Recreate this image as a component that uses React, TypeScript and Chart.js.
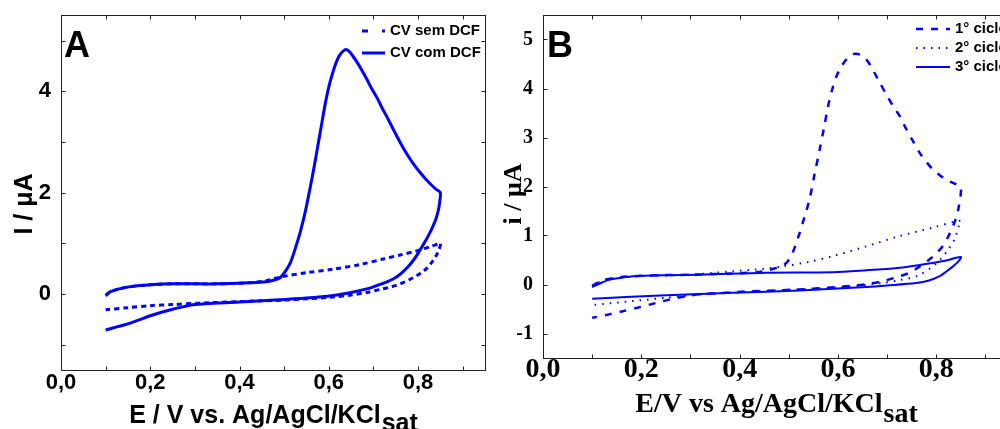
import React, { useEffect, useRef } from 'react';
import { Chart, registerables } from 'chart.js';

Chart.register(...registerables);

// ---------- DATA ----------
// Panel A: CV sem DCF (dashed) – forward then reverse scan
const aSemX = [0.1, 0.11, 0.13, 0.16, 0.2, 0.25, 0.35, 0.42, 0.46, 0.48, 0.5, 0.55, 0.61, 0.67, 0.722, 0.76, 0.797, 0.83, 0.85,
  0.849, 0.846, 0.842, 0.835, 0.827, 0.82, 0.812, 0.797, 0.78, 0.76, 0.74, 0.72, 0.685, 0.65, 0.61, 0.5, 0.4, 0.313, 0.25, 0.2, 0.15, 0.1];
const aSemY = [-0.03, 0.04, 0.1, 0.15, 0.18, 0.2, 0.2, 0.22, 0.26, 0.31, 0.35, 0.42, 0.49, 0.58, 0.69, 0.77, 0.85, 0.94, 1.0,
  0.93, 0.86, 0.78, 0.68, 0.58, 0.51, 0.45, 0.36, 0.28, 0.2, 0.14, 0.1, 0.03, -0.02, -0.06, -0.12, -0.15, -0.18, -0.21, -0.23, -0.27, -0.31];

// Panel A: CV com DCF (solid)
const aComX = [0.1, 0.11, 0.13, 0.16, 0.2, 0.25, 0.35, 0.42, 0.46, 0.48, 0.492, 0.503, 0.514, 0.525, 0.536, 0.548, 0.559, 0.567, 0.574, 0.583,
  0.592, 0.601, 0.61, 0.618, 0.625, 0.637, 0.645, 0.655, 0.665, 0.675, 0.685, 0.695, 0.71, 0.72, 0.73, 0.745, 0.76, 0.775, 0.79, 0.804,
  0.817, 0.83, 0.84, 0.85,
  0.849, 0.847, 0.844, 0.84, 0.835, 0.83, 0.82, 0.81, 0.8, 0.79, 0.78, 0.77, 0.76, 0.745, 0.73, 0.715, 0.7, 0.685, 0.65, 0.61, 0.55,
  0.46, 0.4, 0.35, 0.3, 0.275, 0.25, 0.225, 0.2, 0.175, 0.15, 0.125, 0.1];
const aComY = [-0.03, 0.04, 0.1, 0.15, 0.18, 0.2, 0.2, 0.22, 0.24, 0.28, 0.33, 0.45, 0.62, 0.9, 1.22, 1.65, 2.13, 2.5, 2.85, 3.3,
  3.75, 4.12, 4.4, 4.6, 4.72, 4.82, 4.79, 4.68, 4.55, 4.4, 4.24, 4.07, 3.84, 3.66, 3.5, 3.24, 2.99, 2.76, 2.56, 2.4,
  2.27, 2.15, 2.07, 2.0,
  1.85, 1.72, 1.6, 1.48, 1.37, 1.27, 1.1, 0.95, 0.8, 0.67, 0.56, 0.47, 0.39, 0.3, 0.24, 0.19, 0.14, 0.1, 0.03, -0.03, -0.08,
  -0.13, -0.16, -0.18, -0.21, -0.25, -0.3, -0.36, -0.43, -0.51, -0.59, -0.65, -0.71];

// Panel B: 1° ciclo (dashed)
const b1X = [0.1, 0.12, 0.15, 0.2, 0.3, 0.4, 0.45, 0.475, 0.485, 0.495, 0.502, 0.508, 0.515, 0.522, 0.532, 0.542, 0.552, 0.563, 0.572, 0.58,
  0.588, 0.597, 0.607, 0.617, 0.63, 0.645, 0.658, 0.67, 0.685, 0.7, 0.713, 0.726, 0.74, 0.753, 0.766, 0.78, 0.793, 0.806, 0.82, 0.835, 0.85,
  0.85, 0.849, 0.846, 0.843, 0.839, 0.834, 0.824, 0.813, 0.8, 0.786, 0.765, 0.746, 0.72, 0.692, 0.66, 0.624, 0.522, 0.42, 0.35, 0.319,
  0.29, 0.26, 0.24, 0.217, 0.19, 0.16, 0.13, 0.1];
const b1Y = [-0.03, 0.08, 0.14, 0.18, 0.2, 0.23, 0.27, 0.34, 0.38, 0.44, 0.53, 0.65, 0.84, 1.05, 1.38, 1.73, 2.23, 2.76, 3.22, 3.64,
  3.97, 4.25, 4.45, 4.59, 4.7, 4.69, 4.59, 4.4, 4.12, 3.85, 3.63, 3.43, 3.15, 2.92, 2.69, 2.5, 2.35, 2.24, 2.14, 2.07, 2.0,
  1.88, 1.75, 1.6, 1.45, 1.32, 1.19, 0.97, 0.78, 0.63, 0.51, 0.36, 0.24, 0.15, 0.07, 0.01, -0.03, -0.1, -0.14, -0.18, -0.2,
  -0.24, -0.3, -0.35, -0.41, -0.48, -0.55, -0.62, -0.68];

// Panel B: 2° ciclo (dotted)
const b2X = [0.1, 0.12, 0.15, 0.2, 0.3, 0.386, 0.45, 0.488, 0.54, 0.59, 0.658, 0.726, 0.793, 0.84, 0.85,
  0.849, 0.846, 0.837, 0.824, 0.81, 0.793, 0.76, 0.72, 0.692, 0.6, 0.5, 0.4, 0.3, 0.251, 0.18, 0.1];
const b2Y = [-0.05, 0.07, 0.13, 0.17, 0.2, 0.27, 0.32, 0.37, 0.46, 0.58, 0.78, 0.99, 1.16, 1.29, 1.3,
  1.28, 1.2, 0.92, 0.71, 0.53, 0.37, 0.17, 0.08, 0.03, -0.06, -0.11, -0.16, -0.22, -0.27, -0.34, -0.42];

// Panel B: 3° ciclo (solid)
const b3X = [0.1, 0.12, 0.136, 0.16, 0.183, 0.25, 0.319, 0.454, 0.59, 0.658, 0.726, 0.793, 0.82, 0.85,
  0.845, 0.834, 0.82, 0.807, 0.785, 0.759, 0.7, 0.658, 0.522, 0.386, 0.251, 0.18, 0.1];
const b3Y = [-0.05, 0.04, 0.1, 0.14, 0.17, 0.19, 0.2, 0.24, 0.25, 0.29, 0.34, 0.44, 0.49, 0.56,
  0.47, 0.37, 0.26, 0.17, 0.08, 0.03, -0.02, -0.05, -0.12, -0.17, -0.22, -0.25, -0.29];

const xTickValues = [0, 0.1, 0.2, 0.3, 0.4, 0.5, 0.6, 0.7, 0.8, 0.9];
const xLabelValues = [0, 0.2, 0.4, 0.6, 0.8];
const yTickValues = [-1, 0, 1, 2, 3, 4, 5];
const aYLabelValues = [0, 2, 4];
const bYLabelValues = [-1, 0, 1, 2, 3, 4, 5];

const legendA = ['CV sem DCF', 'CV com DCF'];
const legendB = ['1° ciclo', '2° ciclo', '3° ciclo'];

const X_MIN = 0;
const X_MAX = 0.95;
const Y_MIN = -1.5;
const Y_MAX = 5.5;

const BLUE = '#0000ff';
const SANS = '"Liberation Sans", Arial, sans-serif';
const SERIF = '"Liberation Serif", "Times New Roman", serif';

const pts = (xs: number[], ys: number[]) => xs.map((x, i) => ({ x, y: ys[i] }));
const near = (v: number, list: number[]) => list.some((l) => Math.abs(l - v) < 1e-6);
const fmtComma = (v: number, d: number) => v.toFixed(d).replace('.', ',');

// ---------- decoration plugin (frame, inner ticks, letter, legend, titles) ----------
const decorPlugin = {
  id: 'decor',
  afterDraw(chart: any, _args: any, o: any) {
    const { ctx, chartArea: ca, scales } = chart;
    const xs = scales.x;
    const ys = scales.y;
    ctx.save();
    // frame
    ctx.strokeStyle = '#222';
    ctx.lineWidth = 1;
    ctx.setLineDash([]);
    const L = Math.round(ca.left) + 0.5, T = Math.round(ca.top) + 0.5;
    const R = Math.round(ca.right) + 0.5, B = Math.round(ca.bottom) + 0.5;
    ctx.strokeRect(L, T, R - L, B - T);
    // inner ticks
    ctx.beginPath();
    xs.ticks.forEach((t: any) => {
      const p = Math.round(xs.getPixelForValue(t.value)) + 0.5;
      ctx.moveTo(p, B); ctx.lineTo(p, B - o.tickLen);
      ctx.moveTo(p, T); ctx.lineTo(p, T + o.tickLen);
    });
    ys.ticks.forEach((t: any) => {
      const p = Math.round(ys.getPixelForValue(t.value)) + 0.5;
      ctx.moveTo(L, p); ctx.lineTo(L + o.tickLen, p);
      ctx.moveTo(R, p); ctx.lineTo(R - o.tickLen, p);
    });
    ctx.stroke();

    // panel letter
    ctx.fillStyle = '#000';
    ctx.font = o.letterFont;
    ctx.textAlign = 'left';
    ctx.textBaseline = 'alphabetic';
    ctx.fillText(o.letter, o.letterX, o.letterY);

    // legend
    const ds = chart.data.datasets;
    o.legendRows.forEach((rowY: number, i: number) => {
      const d = ds[i];
      ctx.strokeStyle = d.borderColor;
      ctx.lineWidth = d.borderWidth;
      ctx.setLineDash(d.legendDash || d.borderDash || []);
      ctx.beginPath();
      ctx.moveTo(o.legendX0, rowY);
      ctx.lineTo(o.legendX1, rowY);
      ctx.stroke();
      ctx.setLineDash([]);
      ctx.fillStyle = '#000';
      ctx.font = o.legendFont;
      ctx.textAlign = 'left';
      ctx.textBaseline = 'middle';
      ctx.fillText(d.label, o.legendTextX, rowY);
    });

    // x title with subscript
    ctx.font = o.xTitleFont;
    ctx.textBaseline = 'alphabetic';
    ctx.textAlign = 'left';
    const wMain = ctx.measureText(o.xTitleMain).width;
    ctx.font = o.xSubFont;
    const wSub = ctx.measureText(o.xTitleSub).width;
    const left = o.xTitleCenter - (wMain + wSub) / 2;
    ctx.font = o.xTitleFont;
    ctx.fillText(o.xTitleMain, left, o.xTitleBaseline);
    ctx.font = o.xSubFont;
    ctx.fillText(o.xTitleSub, left + wMain + 1, o.xSubBaseline);

    // y title (rotated)
    ctx.translate(o.yTitleX, o.yTitleY);
    ctx.rotate(-Math.PI / 2);
    ctx.font = o.yTitleFont;
    ctx.textAlign = 'center';
    ctx.textBaseline = 'middle';
    ctx.fillText(o.yTitleText, 0, 0);
    ctx.restore();
  },
};

function makeConfig(panel: 'A' | 'B') {
  const isA = panel === 'A';
  const datasets = isA
    ? [
        { label: legendA[0], data: pts(aSemX, aSemY), borderColor: BLUE, borderWidth: 3, borderDash: [5, 4], legendDash: [6, 14] },
        { label: legendA[1], data: pts(aComX, aComY), borderColor: BLUE, borderWidth: 3, borderDash: [] },
      ]
    : [
        { label: legendB[0], data: pts(b1X, b1Y), borderColor: BLUE, borderWidth: 2.5, borderDash: [7, 8] },
        { label: legendB[1], data: pts(b2X, b2Y), borderColor: BLUE, borderWidth: 2, borderDash: [1.5, 6] },
        { label: legendB[2], data: pts(b3X, b3Y), borderColor: BLUE, borderWidth: 2, borderDash: [] },
      ];
  const tickFont = isA ? { family: SANS, weight: 'bold', size: 22 } : { family: SERIF, weight: 'bold', size: 28 };
  const yTickFont = isA ? { family: SANS, weight: 'bold', size: 22 } : { family: SERIF, weight: 'bold', size: 20 };
  const yLabels = isA ? aYLabelValues : bYLabelValues;

  return {
    type: 'scatter',
    data: {
      datasets: datasets.map((d) => ({
        ...d,
        showLine: true,
        pointRadius: 0,
        pointHoverRadius: 0,
        fill: false,
        tension: 0.3,
        borderCapStyle: 'butt',
        borderJoinStyle: 'round',
      })),
    },
    options: {
      responsive: false,
      animation: false,
      events: [],
      layout: { padding: { left: 0, top: 15, right: isA ? 15 : 5, bottom: 0 } },
      plugins: {
        legend: { display: false },
        tooltip: { enabled: false },
        decor: isA
          ? {
              tickLen: 4,
              letter: 'A', letterFont: `bold 36px ${SANS}`, letterX: 64, letterY: 57,
              legendRows: [31, 53], legendX0: 362, legendX1: 385, legendTextX: 390, legendFont: `bold 15px ${SANS}`,
              xTitleMain: 'E / V vs. Ag/AgCl/KCl', xTitleSub: 'sat', xTitleFont: `bold 25px ${SANS}`, xSubFont: `bold 25px ${SANS}`,
              xTitleCenter: 273, xTitleBaseline: 423, xSubBaseline: 431,
              yTitleText: 'I / μA', yTitleFont: `bold 25px ${SANS}`, yTitleX: 25, yTitleY: 204,
            }
          : {
              tickLen: 4,
              letter: 'B', letterFont: `bold 36px ${SANS}`, letterX: 47, letterY: 57,
              legendRows: [29, 48, 67], legendX0: 416, legendX1: 450, legendTextX: 455, legendFont: `bold 15px ${SANS}`,
              xTitleMain: 'E/V vs Ag/AgCl/KCl', xTitleSub: 'sat', xTitleFont: `bold 28px ${SERIF}`, xSubFont: `bold 28px ${SERIF}`,
              xTitleCenter: 276, xTitleBaseline: 412, xSubBaseline: 422,
              yTitleText: 'i / μA', yTitleFont: `bold 26px ${SERIF}`, yTitleX: 14, yTitleY: 194,
            },
      },
      scales: {
        x: {
          type: 'linear',
          min: X_MIN,
          max: X_MAX,
          grid: { display: false },
          border: { display: false },
          afterBuildTicks: (s: any) => { s.ticks = xTickValues.map((v) => ({ value: v })); },
          afterFit: (s: any) => { s.height = isA ? 59 : 71; },
          ticks: {
            autoSkip: false,
            maxRotation: 0,
            minRotation: 0,
            padding: isA ? -8 : -13,
            color: '#000',
            font: tickFont,
            callback: (v: any) => (near(v, xLabelValues) ? fmtComma(v, 1) : ''),
          },
        },
        y: {
          type: 'linear',
          min: Y_MIN,
          max: Y_MAX,
          grid: { display: false },
          border: { display: false },
          afterBuildTicks: (s: any) => { s.ticks = yTickValues.map((v) => ({ value: v })); },
          afterFit: (s: any) => { s.width = isA ? 61 : 43; },
          ticks: {
            autoSkip: false,
            padding: 2,
            color: '#000',
            font: yTickFont,
            callback: (v: any) => (near(v, yLabels) ? String(v) : ''),
          },
        },
      },
    },
    plugins: [decorPlugin],
  };
}

function Panel({ panel, left, width }: { panel: 'A' | 'B'; left: number; width: number }) {
  const ref = useRef<HTMLCanvasElement | null>(null);
  useEffect(() => {
    if (!ref.current) return;
    const chart = new Chart(ref.current, makeConfig(panel) as any);
    return () => chart.destroy();
  }, [panel]);
  return (
    <canvas
      ref={ref}
      width={width}
      height={429}
      style={{ position: 'absolute', left, top: 0, width, height: 429, display: 'block' }}
    />
  );
}

export default function App() {
  return (
    <div
      style={{
        position: 'fixed',
        left: 0,
        top: 0,
        width: 1000,
        height: 429,
        overflow: 'hidden',
        background: '#fff',
      }}
    >
      <Panel panel="A" left={0} width={500} />
      <Panel panel="B" left={500} width={515} />
    </div>
  );
}
